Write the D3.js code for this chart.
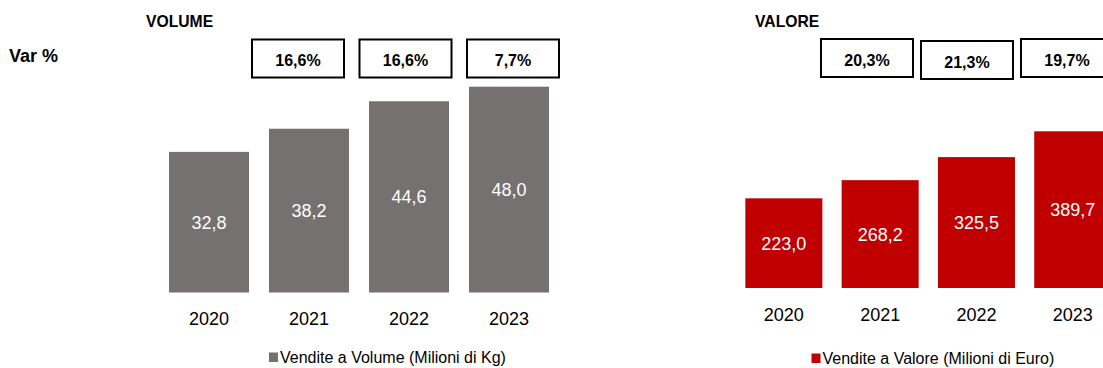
<!DOCTYPE html>
<html>
<head>
<meta charset="utf-8">
<script src="https://cdn.jsdelivr.net/npm/d3@7"></script>
<style>
  html, body { margin: 0; padding: 0; background: #fff; }
  svg { display: block; font-family: "Liberation Sans", Arial, sans-serif; }
</style>
</head>
<body>
<svg id="chart" width="1103" height="368"></svg>
<script>
// Years on the x axis
const years = ["2020", "2021", "2022", "2023"];

// Sales volume, millions of kg
const volumeSales = [32.8, 38.2, 44.6, 48.0];
// Sales value, millions of euro
const valueSales = [223.0, 268.2, 325.5, 389.7];

// Year-on-year change (%), shown for 2021-2023
const growthYears = ["2021", "2022", "2023"];
const volumeGrowth = [16.6, 16.6, 7.7];
const valueGrowth = [20.3, 21.3, 19.7];

const it = d3.formatLocale({ decimal: ",", thousands: ".", grouping: [3], currency: ["€", ""] });
const fmt1 = it.format(".1f");

const svg = d3.select("#chart");

// Row heading on the far left
svg.append("text")
  .attr("x", 9).attr("y", 61.5)
  .attr("font-size", 18).attr("font-weight", "bold").attr("fill", "#000")
  .text("Var %");

function drawPanel(opt) {
  const g = svg.append("g");

  const x = d3.scaleBand().domain(years).range(opt.xRange)
    .paddingInner(0.2).paddingOuter(0.1);
  const y = d3.scaleLinear().domain(opt.yDomain).range(opt.yRange);
  const base = y(0);

  // Panel title
  g.append("text")
    .attr("x", opt.titleX).attr("y", 27)
    .attr("font-size", 15.7).attr("font-weight", "bold").attr("fill", "#000")
    .text(opt.title);

  // Bars
  g.selectAll("rect.bar").data(opt.values).join("rect")
    .attr("class", "bar")
    .attr("x", (d, i) => x(years[i]))
    .attr("width", x.bandwidth())
    .attr("y", d => y(d))
    .attr("height", d => base - y(d))
    .attr("fill", opt.color);

  // Values inside bars, at mid height
  g.selectAll("text.val").data(opt.values).join("text")
    .attr("class", "val")
    .attr("x", (d, i) => x(years[i]) + x.bandwidth() / 2)
    .attr("y", d => (y(d) + base) / 2)
    .attr("dy", "0.36em")
    .attr("text-anchor", "middle")
    .attr("font-size", 18).attr("fill", "#fff")
    .text(d => fmt1(d));

  // Category axis (labels only)
  const axis = g.append("g")
    .attr("transform", `translate(0,${base})`)
    .call(d3.axisBottom(x).tickSize(0).tickPadding(0));
  axis.select(".domain").remove();
  axis.selectAll("text")
    .attr("y", 32.5).attr("dy", null)
    .attr("font-size", 18).attr("fill", "#000")
    .attr("font-family", "Liberation Sans, Arial, sans-serif");

  // Growth boxes
  const bx = d3.scaleBand().domain(growthYears).range(opt.boxRange)
    .paddingInner(opt.boxPad).paddingOuter(0);
  const boxes = g.selectAll("g.box").data(opt.growth).join("g")
    .attr("class", "box")
    .attr("transform", (d, i) => `translate(${bx(growthYears[i])},${opt.boxTop + (opt.boxShift[i] || 0)})`);
  boxes.append("rect")
    .attr("width", bx.bandwidth()).attr("height", 38)
    .attr("fill", "#fff").attr("stroke", "#000").attr("stroke-width", 2);
  boxes.append("text")
    .attr("x", bx.bandwidth() / 2).attr("y", 21)
    .attr("dy", "0.36em")
    .attr("text-anchor", "middle")
    .attr("font-size", 16).attr("font-weight", "bold").attr("fill", "#000")
    .text(d => fmt1(d) + "%");

  // Legend
  const lg = g.append("g").attr("transform", `translate(${opt.legendX},${opt.legendY})`);
  lg.append("rect").attr("x", 0).attr("y", -10.5).attr("width", 9).attr("height", 9.5)
    .attr("fill", opt.color);
  lg.append("text").attr("x", 11).attr("y", 0)
    .attr("font-size", 16).attr("fill", "#000")
    .text(opt.legend);
}

drawPanel({
  title: "VOLUME", titleX: 146,
  values: volumeSales, growth: volumeGrowth,
  color: "#767171",
  xRange: [159, 559],
  yDomain: [0, 50], yRange: [292.5, 292.5 - 50 * 4.2875],
  boxRange: [252, 559], boxPad: 0.144, boxTop: 39.5, boxShift: [0, 0, 0],
  legendX: 269, legendY: 363,
  legend: "Vendite a Volume (Milioni di Kg)"
});

drawPanel({
  title: "VALORE", titleX: 755,
  values: valueSales, growth: valueGrowth,
  color: "#C00000",
  xRange: [735.7, 1120.9],
  yDomain: [0, 400], yRange: [288, 288 - 400 * 0.4021],
  boxRange: [821, 1113], boxPad: 0.08, boxTop: 39, boxShift: [0, 2, 0],
  legendX: 811.5, legendY: 364,
  legend: "Vendite a Valore (Milioni di Euro)"
});
</script>
</body>
</html>
